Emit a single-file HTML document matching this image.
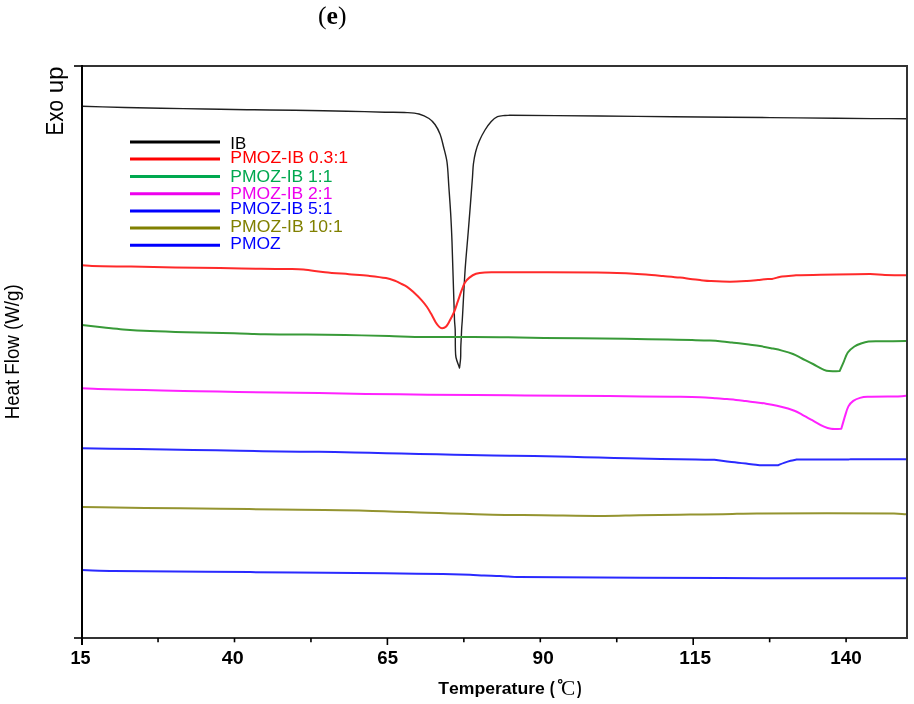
<!DOCTYPE html>
<html><head><meta charset="utf-8"><style>
html,body{margin:0;padding:0;background:#fff;width:914px;height:704px;overflow:hidden;}
svg{display:block;will-change:transform;}
text{font-kerning:none;}
</style></head><body>
<svg width="914" height="704" viewBox="0 0 914 704">
<rect width="914" height="704" fill="#fff"/>
<text x="318" y="24.3" font-family="Liberation Serif" font-size="25.7" fill="#000">(<tspan font-weight="bold">e</tspan>)</text>
<path d="M82.00,106.30 C96.33,106.70 110.67,107.14 125.00,107.50 C137.00,107.80 149.00,108.07 161.00,108.30 C175.67,108.57 190.33,108.76 205.00,109.00 C219.00,109.23 233.00,109.50 247.00,109.70 C263.00,109.93 279.00,110.06 295.00,110.30 C312.33,110.56 329.67,110.83 347.00,111.20 C359.67,111.47 372.33,111.90 385.00,112.20 C392.33,112.37 399.68,112.21 407.00,112.60 C411.02,112.81 415.16,112.97 419.00,114.00 C422.49,114.94 425.99,116.53 429.00,118.50 C431.33,120.03 433.38,122.22 435.00,124.50 C437.05,127.39 438.73,130.68 440.00,134.00 C441.60,138.18 442.51,142.64 443.60,147.00 C444.84,151.97 446.32,156.93 447.00,162.00 C448.06,169.93 448.23,178.00 448.80,186.00 C449.46,195.33 450.16,204.66 450.70,214.00 C451.23,223.19 451.64,232.40 452.00,241.60 C452.37,251.06 452.60,260.53 452.90,270.00 C453.43,286.67 453.86,303.34 454.50,320.00 C454.63,323.34 455.10,326.66 455.20,330.00 C455.40,336.33 455.22,342.67 455.40,349.00 C455.48,351.84 455.41,354.75 456.00,357.50 C456.77,361.08 458.33,364.50 459.50,368.00 C459.87,364.77 460.40,361.54 460.60,358.30 C460.83,354.64 460.68,350.96 460.80,347.30 C460.91,343.86 461.14,340.43 461.30,337.00 C461.44,334.00 461.52,331.00 461.70,328.00 C461.86,325.33 462.14,322.67 462.30,320.00 C463.28,303.34 463.98,286.65 465.10,270.00 C465.95,257.42 467.18,244.87 468.20,232.30 C468.95,223.07 469.68,213.83 470.40,204.60 C471.12,195.40 471.82,186.20 472.50,177.00 C472.82,172.67 472.87,168.30 473.40,164.00 C473.90,159.97 474.59,155.93 475.60,152.00 C476.56,148.26 477.78,144.55 479.30,141.00 C480.92,137.21 482.86,133.52 485.00,130.00 C486.84,126.98 488.85,123.95 491.25,121.40 C493.02,119.52 495.17,117.70 497.50,116.70 C499.76,115.73 502.49,115.79 505.00,115.50 C506.52,115.32 508.07,115.37 509.60,115.30 C539.73,115.53 569.87,115.74 600.00,116.00 C624.33,116.21 648.67,116.47 673.00,116.70 C691.67,116.87 710.33,117.02 729.00,117.20 C752.00,117.42 775.00,117.67 798.00,117.90 C822.67,118.14 847.33,118.42 872.00,118.60 C883.33,118.68 894.67,118.67 906.00,118.70" fill="none" stroke="#202020" stroke-width="1.4" stroke-linejoin="round"/>
<path d="M82.00,265.30 C85.33,265.53 88.66,265.91 92.00,266.00 C104.99,266.34 118.00,266.38 131.00,266.60 C145.67,266.85 160.33,267.17 175.00,267.40 C190.00,267.64 205.00,267.76 220.00,268.00 C233.67,268.22 247.33,268.61 261.00,268.80 C271.33,268.94 281.67,268.83 292.00,269.00 C295.84,269.06 299.68,269.13 303.50,269.50 C310.68,270.20 317.82,271.46 325.00,272.20 C332.98,273.02 341.00,273.54 349.00,274.20 C355.50,274.74 362.02,275.12 368.50,275.80 C374.35,276.42 380.24,277.01 386.00,278.10 C389.07,278.68 392.07,279.73 395.00,280.80 C396.73,281.43 398.34,282.38 400.00,283.20 C402.38,284.38 404.92,285.32 407.10,286.80 C409.65,288.52 411.92,290.70 414.20,292.80 C416.66,295.07 419.06,297.42 421.30,299.90 C423.33,302.15 425.26,304.52 427.00,307.00 C428.59,309.26 429.93,311.70 431.30,314.10 C432.76,316.66 433.96,319.39 435.50,321.90 C436.52,323.56 437.63,325.27 439.00,326.60 C439.80,327.37 440.96,328.17 442.00,328.20 C443.26,328.24 444.95,327.71 445.90,326.80 C447.52,325.24 448.55,322.87 449.70,320.80 C451.29,317.93 452.84,315.02 454.10,312.00 C455.58,308.45 456.63,304.73 457.90,301.10 C459.17,297.47 460.33,293.79 461.70,290.20 C462.70,287.59 463.56,284.85 465.00,282.50 C466.13,280.65 467.70,278.94 469.40,277.60 C471.37,276.04 473.64,274.60 476.00,273.80 C478.74,272.87 481.78,272.58 484.70,272.40 C489.78,272.08 494.90,272.33 500.00,272.30 C532.33,272.33 564.67,272.10 597.00,272.40 C608.00,272.50 619.01,273.03 630.00,273.50 C635.34,273.73 640.67,274.10 646.00,274.50 C651.67,274.93 657.33,275.48 663.00,276.00 C668.67,276.52 674.34,276.97 680.00,277.60 C684.18,278.07 688.33,278.78 692.50,279.30 C695.33,279.65 698.16,279.92 701.00,280.20 C704.00,280.49 706.99,280.84 710.00,281.00 C716.66,281.34 723.33,281.70 730.00,281.70 C735.67,281.70 741.34,281.34 747.00,281.00 C750.67,280.78 754.34,280.37 758.00,280.00 C760.34,279.77 762.66,279.38 765.00,279.20 C767.33,279.02 769.70,279.21 772.00,278.90 C773.70,278.67 775.33,278.02 777.00,277.60 C778.66,277.18 780.30,276.61 782.00,276.40 C786.64,275.84 791.33,275.67 796.00,275.30 C820.67,274.90 845.34,274.18 870.00,274.10 C875.01,274.08 879.99,274.85 885.00,275.00 C891.99,275.21 899.00,275.13 906.00,275.20" fill="none" stroke="#ff2a2a" stroke-width="2" stroke-linejoin="round"/>
<path d="M82.00,325.10 C89.33,325.90 96.66,326.73 104.00,327.50 C110.33,328.16 116.66,328.90 123.00,329.40 C131.99,330.10 140.99,330.69 150.00,331.10 C161.99,331.65 174.00,331.99 186.00,332.30 C202.00,332.72 218.00,332.89 234.00,333.30 C244.34,333.56 254.66,334.11 265.00,334.30 C276.66,334.51 288.33,334.40 300.00,334.50 C315.00,334.63 330.00,334.73 345.00,335.00 C359.67,335.26 374.33,335.73 389.00,336.10 C401.00,336.40 413.00,336.88 425.00,337.00 C450.00,337.25 475.00,337.01 500.00,337.20 C514.67,337.31 529.33,337.72 544.00,337.90 C571.00,338.22 598.00,338.33 625.00,338.70 C639.33,338.90 653.67,339.30 668.00,339.60 C676.00,339.77 684.00,339.91 692.00,340.10 C698.00,340.24 704.00,340.34 710.00,340.60 C714.00,340.77 718.01,341.06 722.00,341.40 C725.34,341.69 728.67,342.13 732.00,342.50 C734.33,342.76 736.67,343.01 739.00,343.30 C742.34,343.71 745.67,344.16 749.00,344.60 C752.67,345.09 756.35,345.50 760.00,346.10 C763.68,346.70 767.34,347.45 771.00,348.20 C774.68,348.95 778.37,349.64 782.00,350.60 C785.71,351.58 789.44,352.59 793.00,354.00 C796.11,355.23 799.00,357.00 802.00,358.50 C805.67,360.33 809.35,362.13 813.00,364.00 C816.69,365.89 820.23,368.13 824.00,369.80 C825.57,370.49 827.30,370.96 829.00,371.10 C832.50,371.39 836.07,371.10 839.60,371.10 C840.90,368.20 842.20,365.30 843.50,362.40 C844.93,359.10 845.81,355.40 847.80,352.50 C849.44,350.10 851.97,348.15 854.40,346.50 C856.37,345.15 858.72,344.29 861.00,343.50 C863.46,342.65 866.02,341.90 868.60,341.60 C872.35,341.17 876.20,341.40 880.00,341.30 C888.67,341.20 897.33,341.10 906.00,341.00" fill="none" stroke="#389a38" stroke-width="2" stroke-linejoin="round"/>
<path d="M82.00,388.30 C87.33,388.53 92.66,388.84 98.00,389.00 C108.00,389.30 118.00,389.47 128.00,389.70 C139.33,389.97 150.67,390.26 162.00,390.50 C174.00,390.76 186.00,390.96 198.00,391.20 C211.33,391.46 224.67,391.76 238.00,392.00 C251.00,392.23 264.00,392.42 277.00,392.60 C291.00,392.79 305.00,392.90 319.00,393.10 C334.67,393.33 350.33,393.67 366.00,393.90 C386.67,394.20 407.33,394.51 428.00,394.70 C460.33,395.01 492.67,395.15 525.00,395.40 C553.00,395.62 581.00,395.84 609.00,396.10 C630.33,396.30 651.67,396.54 673.00,396.80 C682.00,396.91 691.01,396.91 700.00,397.20 C705.34,397.37 710.67,397.82 716.00,398.20 C719.67,398.46 723.33,398.79 727.00,399.10 C730.00,399.36 733.00,399.60 736.00,399.90 C738.34,400.13 740.67,400.41 743.00,400.70 C745.00,400.95 747.00,401.26 749.00,401.50 C751.66,401.82 754.34,402.06 757.00,402.40 C760.01,402.79 763.01,403.19 766.00,403.70 C769.68,404.33 773.35,405.00 777.00,405.80 C780.69,406.60 784.38,407.45 788.00,408.50 C790.38,409.19 792.73,410.01 795.00,411.00 C797.40,412.05 799.69,413.37 802.00,414.60 C805.69,416.57 809.34,418.59 813.00,420.60 C816.67,422.62 820.20,424.97 824.00,426.70 C826.20,427.70 828.61,428.51 831.00,428.80 C834.37,429.21 837.87,428.80 841.30,428.80 C842.40,425.00 843.50,421.20 844.60,417.40 C845.87,413.73 846.62,409.77 848.40,406.40 C849.52,404.27 851.36,402.32 853.30,400.90 C855.23,399.49 857.67,398.57 860.00,397.90 C862.40,397.21 864.98,396.89 867.50,396.80 C877.65,396.43 887.83,396.60 898.00,396.50 C900.67,396.27 903.33,396.03 906.00,395.80" fill="none" stroke="#ff22ff" stroke-width="2" stroke-linejoin="round"/>
<path d="M82.00,448.30 C100.67,448.57 119.33,448.83 138.00,449.10 C156.33,449.36 174.67,449.61 193.00,449.90 C208.67,450.15 224.33,450.42 240.00,450.70 C253.67,450.95 267.33,451.31 281.00,451.50 C293.67,451.68 306.33,451.63 319.00,451.80 C330.67,451.96 342.33,452.26 354.00,452.50 C364.67,452.72 375.33,452.95 386.00,453.20 C397.00,453.45 408.00,453.76 419.00,454.00 C430.67,454.26 442.33,454.46 454.00,454.70 C467.00,454.96 480.00,455.29 493.00,455.50 C506.67,455.72 520.33,455.77 534.00,456.00 C546.00,456.20 558.00,456.50 570.00,456.80 C579.67,457.04 589.33,457.35 599.00,457.60 C608.67,457.85 618.33,458.08 628.00,458.30 C639.00,458.55 650.00,458.79 661.00,459.00 C672.67,459.22 684.33,459.43 696.00,459.60 C702.13,459.69 708.27,459.73 714.40,459.80 C717.47,460.20 720.53,460.62 723.60,461.00 C726.23,461.32 728.87,461.59 731.50,461.90 C733.70,462.16 735.90,462.44 738.10,462.70 C740.73,463.01 743.37,463.30 746.00,463.60 C748.40,463.87 750.80,464.12 753.20,464.40 C755.37,464.65 757.53,464.93 759.70,465.20 C765.83,465.20 771.97,465.20 778.10,465.20 C780.07,464.43 782.01,463.60 784.00,462.90 C786.18,462.13 788.37,461.39 790.60,460.80 C792.54,460.29 794.53,460.00 796.50,459.60 C813.67,459.60 830.84,459.73 848.00,459.60 C848.84,459.59 849.66,459.21 850.50,459.20 C868.99,459.07 887.50,459.20 906.00,459.20" fill="none" stroke="#2a2aff" stroke-width="2" stroke-linejoin="round"/>
<path d="M82.00,507.10 C103.00,507.37 124.00,507.66 145.00,507.90 C170.00,508.19 195.00,508.40 220.00,508.70 C239.67,508.93 259.33,509.25 279.00,509.50 C294.00,509.69 309.00,509.79 324.00,510.00 C335.67,510.16 347.33,510.35 359.00,510.60 C367.33,510.78 375.67,511.06 384.00,511.30 C391.67,511.52 399.33,511.76 407.00,512.00 C414.00,512.22 421.00,512.47 428.00,512.70 C435.33,512.94 442.67,513.17 450.00,513.40 C458.67,513.67 467.33,513.96 476.00,514.20 C485.67,514.46 495.33,514.74 505.00,514.90 C517.33,515.11 529.67,515.16 542.00,515.30 C562.67,515.53 583.33,516.00 604.00,516.00 C615.67,516.00 627.33,515.49 639.00,515.30 C656.00,515.02 673.00,514.82 690.00,514.60 C701.00,514.46 712.00,514.40 723.00,514.20 C734.33,514.00 745.66,513.44 757.00,513.40 C802.66,513.24 848.34,513.35 894.00,513.60 C898.00,513.62 902.00,514.00 906.00,514.20" fill="none" stroke="#949430" stroke-width="2" stroke-linejoin="round"/>
<path d="M82.00,570.10 C92.67,570.37 103.33,570.76 114.00,570.90 C144.66,571.30 175.33,571.43 206.00,571.70 C235.67,571.96 265.33,572.23 295.00,572.50 C325.00,572.77 355.00,572.98 385.00,573.30 C404.33,573.51 423.67,573.76 443.00,574.10 C452.00,574.26 461.00,574.49 470.00,574.80 C474.67,574.96 479.33,575.31 484.00,575.50 C489.33,575.71 494.67,575.77 500.00,576.00 C506.34,576.27 512.66,576.92 519.00,577.00 C559.66,577.49 600.33,577.51 641.00,577.70 C692.67,577.94 744.33,578.18 796.00,578.30 C832.67,578.38 869.33,578.30 906.00,578.30" fill="none" stroke="#2a2aff" stroke-width="2" stroke-linejoin="round"/>
<g stroke-linecap="butt" fill="none">
<line x1="74" y1="66" x2="908" y2="66" stroke="#333" stroke-width="2"/>
<line x1="907" y1="65" x2="907" y2="639" stroke="#333" stroke-width="2"/>
<line x1="74" y1="638" x2="908" y2="638" stroke="#333" stroke-width="2"/>
<line x1="82" y1="65" x2="82" y2="645" stroke="#000" stroke-width="2"/>
<line x1="234.50" y1="638" x2="234.50" y2="642.3" stroke="#000" stroke-width="1.6"/>
<line x1="387.40" y1="638" x2="387.40" y2="645" stroke="#000" stroke-width="1.6"/>
<line x1="540.30" y1="638" x2="540.30" y2="642.3" stroke="#000" stroke-width="1.6"/>
<line x1="693.20" y1="638" x2="693.20" y2="645" stroke="#000" stroke-width="1.6"/>
<line x1="846.10" y1="638" x2="846.10" y2="642.3" stroke="#000" stroke-width="1.6"/>
<line x1="158.05" y1="638" x2="158.05" y2="642.3" stroke="#000" stroke-width="1.6"/>
<line x1="310.95" y1="638" x2="310.95" y2="642.3" stroke="#000" stroke-width="1.6"/>
<line x1="463.85" y1="638" x2="463.85" y2="642.3" stroke="#000" stroke-width="1.6"/>
<line x1="616.75" y1="638" x2="616.75" y2="642.3" stroke="#000" stroke-width="1.6"/>
<line x1="769.65" y1="638" x2="769.65" y2="642.3" stroke="#000" stroke-width="1.6"/>
</g>
<text x="70.57" y="663.90" font-family="Liberation Sans" font-weight="bold" font-size="18.7" fill="#000" textLength="20.04" lengthAdjust="spacingAndGlyphs">15</text>
<text x="221.70" y="663.90" font-family="Liberation Sans" font-weight="bold" font-size="18.7" fill="#000" textLength="21.91" lengthAdjust="spacingAndGlyphs">40</text>
<text x="377.32" y="663.90" font-family="Liberation Sans" font-weight="bold" font-size="18.7" fill="#000" textLength="20.70" lengthAdjust="spacingAndGlyphs">65</text>
<text x="532.64" y="663.90" font-family="Liberation Sans" font-weight="bold" font-size="18.7" fill="#000" textLength="21.14" lengthAdjust="spacingAndGlyphs">90</text>
<text x="679.30" y="663.90" font-family="Liberation Sans" font-weight="bold" font-size="18.7" fill="#000" textLength="31.73" lengthAdjust="spacingAndGlyphs">115</text>
<text x="830.21" y="663.90" font-family="Liberation Sans" font-weight="bold" font-size="18.7" fill="#000" textLength="31.57" lengthAdjust="spacingAndGlyphs">140</text>
<text x="438.20" y="694.20" font-family="Liberation Sans" font-weight="bold" font-size="17.2" fill="#000" textLength="106.70" lengthAdjust="spacingAndGlyphs">Temperature</text>
<text x="549.86" y="694.20" font-family="Liberation Sans" font-weight="bold" font-size="19" fill="#000" textLength="4.96" lengthAdjust="spacingAndGlyphs">(</text>
<text x="577.09" y="694.20" font-family="Liberation Sans" font-weight="bold" font-size="19" fill="#000" textLength="4.60" lengthAdjust="spacingAndGlyphs">)</text>
<text x="560.92" y="695.00" font-family="Liberation Serif" font-size="22" fill="#000" textLength="14.26" lengthAdjust="spacingAndGlyphs">C</text>
<circle cx="560.2" cy="681.3" r="1.75" fill="none" stroke="#000" stroke-width="1.2"/>
<text transform="translate(62.60,0) rotate(-90)" x="-135.49" y="0" font-family="Liberation Sans" font-size="24.1" fill="#000" textLength="35.56" lengthAdjust="spacingAndGlyphs">Exo</text>
<text transform="translate(62.60,0) rotate(-90)" x="-93.38" y="0" font-family="Liberation Sans" font-size="24.1" fill="#000" textLength="27.00" lengthAdjust="spacingAndGlyphs">up</text>
<text transform="translate(18.75,0) rotate(-90)" x="-419.33" y="0" font-family="Liberation Sans" font-size="19.8" fill="#000" textLength="134.99" lengthAdjust="spacingAndGlyphs">Heat Flow (W/g)</text>
<line x1="130" y1="142.1" x2="220" y2="142.1" stroke="#000000" stroke-width="3"/>
<text x="230.24" y="149.20" font-family="Liberation Sans" font-size="17.2" fill="#000000" textLength="15.95" lengthAdjust="spacingAndGlyphs">IB</text>
<line x1="130" y1="159" x2="220" y2="159" stroke="#ff0000" stroke-width="3"/>
<text x="230.35" y="163.20" font-family="Liberation Sans" font-size="17.2" fill="#ff0000" textLength="117.81" lengthAdjust="spacingAndGlyphs">PMOZ-IB 0.3:1</text>
<line x1="130" y1="176.5" x2="220" y2="176.5" stroke="#00a84f" stroke-width="3"/>
<text x="230.37" y="181.60" font-family="Liberation Sans" font-size="17.2" fill="#00a84f" textLength="101.99" lengthAdjust="spacingAndGlyphs">PMOZ-IB 1:1</text>
<line x1="130" y1="193.7" x2="220" y2="193.7" stroke="#ee00ee" stroke-width="3"/>
<text x="230.37" y="198.60" font-family="Liberation Sans" font-size="17.2" fill="#ee00ee" textLength="101.99" lengthAdjust="spacingAndGlyphs">PMOZ-IB 2:1</text>
<line x1="130" y1="211" x2="220" y2="211" stroke="#0000ff" stroke-width="3"/>
<text x="230.37" y="213.60" font-family="Liberation Sans" font-size="17.2" fill="#0000ff" textLength="101.99" lengthAdjust="spacingAndGlyphs">PMOZ-IB 5:1</text>
<line x1="130" y1="228" x2="220" y2="228" stroke="#808000" stroke-width="3"/>
<text x="230.36" y="231.50" font-family="Liberation Sans" font-size="17.2" fill="#808000" textLength="112.40" lengthAdjust="spacingAndGlyphs">PMOZ-IB 10:1</text>
<line x1="130" y1="245.2" x2="220" y2="245.2" stroke="#0000ff" stroke-width="3"/>
<text x="230.37" y="248.90" font-family="Liberation Sans" font-size="17.2" fill="#0000ff" textLength="50.38" lengthAdjust="spacingAndGlyphs">PMOZ</text>
</svg>
</body></html>
